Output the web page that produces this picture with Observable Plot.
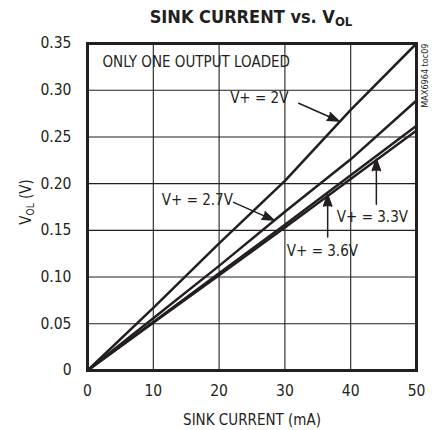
<!DOCTYPE html>
<html><head><meta charset="utf-8">
<script src="https://cdn.jsdelivr.net/npm/d3@7"></script>
<script src="https://cdn.jsdelivr.net/npm/@observablehq/plot@0.6"></script>
<style>
body{margin:0;background:#fff}
svg text{font-family:"DejaVu Sans Condensed","DejaVu Sans",sans-serif !important;font-stretch:condensed !important}
</style>
</head><body><div id="chart"></div>
<script>
const sinkCurrent = [0, 10, 20, 30, 40, 50];
const vol2V  = [0, 0.067, 0.136, 0.203, 0.279, 0.350];
const vol27V = [0, 0.056, 0.112, 0.170, 0.226, 0.289];
const vol33V = [0, 0.052, 0.104, 0.156, 0.209, 0.262];
const vol36V = [0, 0.051, 0.102, 0.153, 0.205, 0.257];
const seriesNames = ["V+ = 2V", "V+ = 2.7V", "V+ = 3.3V", "V+ = 3.6V"];
const xTicks = [0, 10, 20, 30, 40, 50];
const yTicks = [0, 0.05, 0.10, 0.15, 0.20, 0.25, 0.30, 0.35];
// annotation anchors (data units)
const labelX = [26.1, 16.7, 43.3, 35.7];
const labelY = [0.292, 0.182, 0.164, 0.128];
const arrowX1 = [32.1, 22.2, 43.9, 36.5];
const arrowY1 = [0.286, 0.180, 0.178, 0.143];
const arrowX2 = [38.2, 28.3, 43.9, 36.5];
const arrowY2 = [0.267, 0.161, 0.226, 0.188];

const seriesValues = [vol2V, vol27V, vol33V, vol36V];
const rows = seriesNames.flatMap((s, i) => sinkCurrent.map((x, j) => ({series: s, x, y: seriesValues[i][j]})));
const labels = seriesNames.map((s, i) => ({text: s, x: labelX[i], y: labelY[i]}));
const arrows = seriesNames.map((s, i) => ({x1: arrowX1[i], y1: arrowY1[i], x2: arrowX2[i], y2: arrowY2[i]}));

const ink = "#231f20";
const chart = Plot.plot({
  width: 433, height: 430,
  marginLeft: 87, marginRight: 17, marginTop: 43, marginBottom: 60,
  style: {fontSize: "15px", color: ink, background: "#fff"},
  x: {domain: [0, 50], ticks: xTicks},
  y: {domain: [0, 0.35], ticks: yTicks},
  marks: [
    Plot.gridX(xTicks.slice(1, -1), {stroke: ink, strokeOpacity: 1, strokeWidth: 1.1}),
    Plot.gridY(yTicks.slice(1, -1), {stroke: ink, strokeOpacity: 1, strokeWidth: 1.1}),
    Plot.axisX(xTicks, {tickSize: 0, tickPadding: 14, label: null, fontSize: 15.5}),
    Plot.axisY(yTicks, {tickSize: 0, tickPadding: 16, label: null, fontSize: 15.5,
      tickFormat: d => d === 0 ? "0" : d.toFixed(2)}),
    Plot.line(rows, {x: "x", y: "y", z: "series", stroke: ink, strokeWidth: 2.5}),
    Plot.text(labels, {x: "x", y: "y", text: "text", fontSize: 15, fill: ink}),
    Plot.arrow(arrows, {x1: "x1", y1: "y1", x2: "x2", y2: "y2", stroke: ink, fill: ink,
      strokeWidth: 1.5, headLength: 12, headAngle: 40}),
    Plot.text(["ONLY ONE OUTPUT LOADED"], {frameAnchor: "top-left", dx: 15, dy: 19, text: d => d,
      textAnchor: "start", lineAnchor: "middle", fontSize: 15, fill: ink}),
    Plot.text(["SINK CURRENT (mA)"], {frameAnchor: "bottom", dy: 50, text: d => d,
      lineAnchor: "middle", fontSize: 15, fill: ink}),
    Plot.text(["MAX6964 toc09"], {frameAnchor: "top-right", dx: 9, dy: 0, rotate: -90, text: d => d,
      textAnchor: "end", lineAnchor: "middle", fontSize: 9, fill: ink}),
    Plot.frame({stroke: ink, strokeWidth: 3})
  ]
});
document.getElementById("chart").appendChild(chart);

const svg = d3.select(chart);
const title = svg.append("text")
  .attr("x", 251).attr("y", 23).attr("text-anchor", "middle")
  .attr("font-weight", "bold").attr("font-size", 18).attr("fill", ink);
title.append("tspan").text("SINK CURRENT vs. V");
title.append("tspan").attr("font-size", 13).attr("dy", 3).text("OL");

const ylab = svg.append("text")
  .attr("transform", "translate(31,202) rotate(-90)").attr("text-anchor", "middle")
  .attr("font-size", 15).attr("fill", ink);
ylab.append("tspan").text("V");
ylab.append("tspan").attr("font-size", 10).attr("dy", 3).text("OL");
ylab.append("tspan").attr("dy", -3).text(" (V)");
</script>
</body></html>
